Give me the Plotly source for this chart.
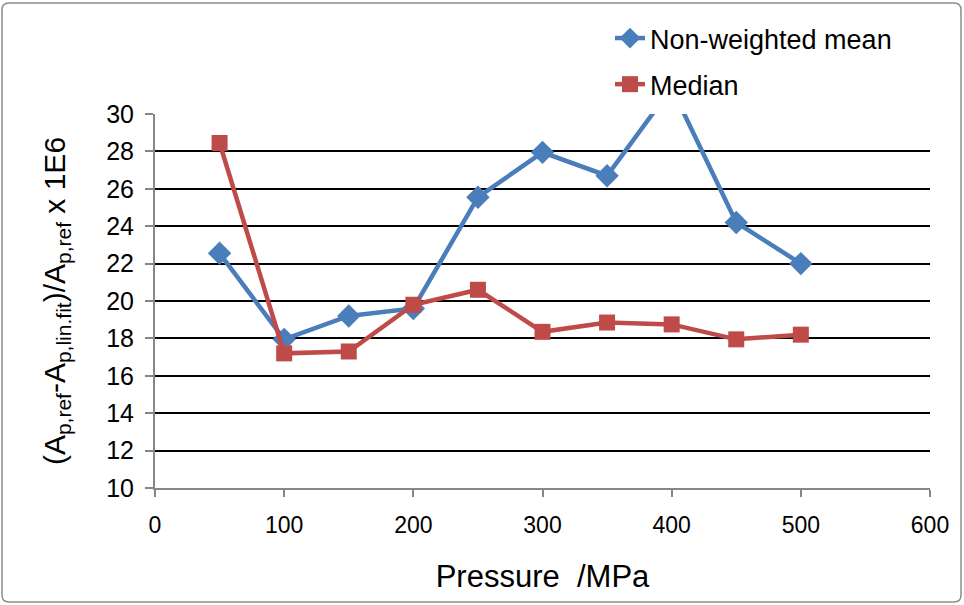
import plotly.graph_objects as go

# Pressure steps (MPa)
pressure = [50, 100, 150, 200, 250, 300, 350, 400, 450, 500]

# Relative deviation of A_p from the linear fit, scaled by 1E6
non_weighted_mean = [22.55, 17.95, 19.2, 19.6, 25.55, 27.95, 26.7, 31.4, 24.2, 22.0]
median = [28.45, 17.2, 17.3, 19.8, 20.6, 18.35, 18.85, 18.75, 17.95, 18.2]

x_ticks = [0, 100, 200, 300, 400, 500, 600]
y_ticks = [10, 12, 14, 16, 18, 20, 22, 24, 26, 28, 30]

FONT = "Liberation Sans, Arial, sans-serif"
BLUE = "#4A7EBB"
RED = "#BE4B48"

W, H = 964, 605
ML, MR, MT, MB = 155, 34, 114, 117
pw, ph = W - ML - MR, H - MT - MB

fig = go.Figure()
fig.add_trace(go.Scatter(
    x=pressure, y=non_weighted_mean, name="Non-weighted mean",
    mode="lines+markers", legendgroup="a",
    line=dict(color=BLUE, width=4.5),
    marker=dict(symbol="diamond", size=18, color=BLUE),
))
fig.add_trace(go.Scatter(
    x=pressure, y=median, name="Median",
    mode="lines+markers", legendgroup="b",
    line=dict(color=RED, width=4.5),
    marker=dict(symbol="square", size=16, color=RED),
))

# Outer chart frame with rounded corners, in paper coordinates
def px_x(p):
    return (p - ML) / pw

def px_y(p):
    return (H - MB - p) / ph

x0, x1, y0, y1, r = 2, 961, 3, 602, 7
path = (
    f"M {px_x(x0 + r)} {px_y(y0)} L {px_x(x1 - r)} {px_y(y0)} "
    f"Q {px_x(x1)} {px_y(y0)} {px_x(x1)} {px_y(y0 + r)} "
    f"L {px_x(x1)} {px_y(y1 - r)} Q {px_x(x1)} {px_y(y1)} {px_x(x1 - r)} {px_y(y1)} "
    f"L {px_x(x0 + r)} {px_y(y1)} Q {px_x(x0)} {px_y(y1)} {px_x(x0)} {px_y(y1 - r)} "
    f"L {px_x(x0)} {px_y(y0 + r)} Q {px_x(x0)} {px_y(y0)} {px_x(x0 + r)} {px_y(y0)} Z"
)
fig.add_shape(type="path", path=path, xref="paper", yref="paper",
              line=dict(color="#8C8C8C", width=1.5), layer="below")

fig.update_layout(
    width=W, height=H,
    margin=dict(l=ML, r=MR, t=MT, b=MB),
    paper_bgcolor="white", plot_bgcolor="white",
    font=dict(family=FONT, color="black", size=24),
    showlegend=True,
    legend=dict(
        x=px_x(610), y=px_y(14), xanchor="left", yanchor="top",
        font=dict(size=27, family=FONT, color="black"),
        bgcolor="rgba(0,0,0,0)", traceorder="grouped", tracegroupgap=8,
    ),
    xaxis=dict(
        range=[0, 600], tickvals=x_ticks, ticktext=[str(v) for v in x_ticks],
        showgrid=False, zeroline=False,
        showline=True, linecolor="#868686", linewidth=2,
        ticks="outside", ticklen=7, tickwidth=1.5, tickcolor="#868686",
        tickfont=dict(size=23), ticklabelstandoff=8,
        title=dict(text="Pressure  /MPa", font=dict(size=31), standoff=29),
    ),
    yaxis=dict(
        range=[10, 30], tickvals=y_ticks, ticktext=[str(v) for v in y_ticks],
        showgrid=True, gridcolor="black", gridwidth=1.6, zeroline=False,
        showline=True, linecolor="#868686", linewidth=2,
        ticks="outside", ticklen=8, tickwidth=1.5, tickcolor="#868686",
        tickfont=dict(size=25), ticklabelstandoff=6,
        title=dict(
            text="(A<sub>p,ref</sub>-A<sub>p,lin.fit</sub>)/A<sub>p,ref</sub> x 1E6",
            font=dict(size=30), standoff=32,
        ),
    ),
)

fig.write_html("out.html")
